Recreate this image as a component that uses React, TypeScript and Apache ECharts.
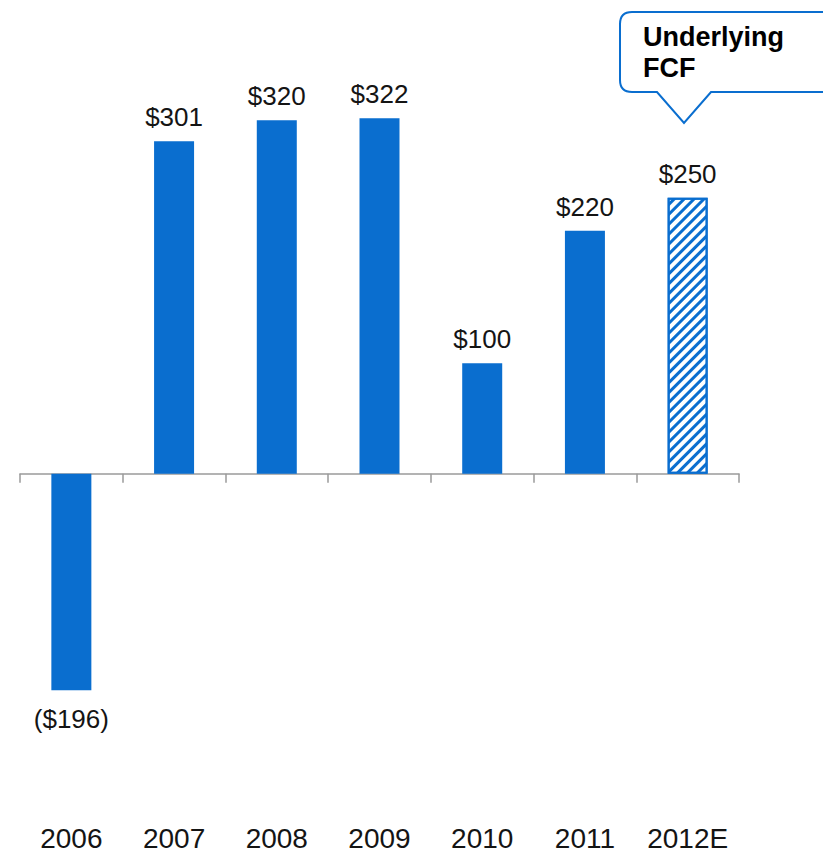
import React, { useEffect, useRef } from "react";
import * as echarts from "echarts";

// Free cash flow by year, $ millions (2012 is an estimate)
const years = ["2006", "2007", "2008", "2009", "2010", "2011", "2012E"];
const fcf = [-196, 301, 320, 322, 100, 220, 250];
const estimateIndex = 6;

const BLUE = "#0a6ecf";
const FONT = "'Liberation Sans', Arial, Helvetica, sans-serif";

// Speech-bubble outline for the "Underlying FCF" note
const calloutPath =
  "M632 12 H 845 V 92 H 711 L 684 123 L 657 92 H 632 Q 620 92 620 80 V 24 Q 620 12 632 12 Z";
echarts.graphic.registerShape("callout", echarts.graphic.extendPath(calloutPath, {}));

const money = (v: number) => (v < 0 ? `($${Math.abs(v)})` : `$${v}`);

export default function App() {
  const ref = useRef<HTMLDivElement>(null);

  useEffect(() => {
    if (!ref.current) return;
    const chart = echarts.init(ref.current, null, { renderer: "svg" });

    const data = fcf.map((v, i) => {
      if (i === estimateIndex) {
        return {
          value: v,
          itemStyle: {
            color: "#ffffff",
            borderColor: BLUE,
            borderWidth: 2,
            decal: {
              symbol: "rect",
              symbolSize: 1,
              color: BLUE,
              dashArrayX: [1, 0],
              dashArrayY: [3, 4],
              rotation: -Math.PI / 4,
            },
          },
        };
      }
      if (v < 0) {
        // Negative bar gets its label underneath
        return { value: v, label: { position: "bottom", distance: 16 } };
      }
      return { value: v };
    });

    chart.setOption({
      animation: false,
      backgroundColor: "#ffffff",
      textStyle: { fontFamily: FONT },
      grid: { left: 20, right: 84, top: 32, height: 776 },
      xAxis: [
        {
          type: "category",
          data: years,
          axisLine: { onZero: true, lineStyle: { color: "#9a9a9a", width: 1.5 } },
          axisTick: { show: true, length: 9, lineStyle: { color: "#9a9a9a", width: 1.5 } },
          axisLabel: { show: false },
        },
        {
          type: "category",
          data: years,
          position: "bottom",
          axisLine: { show: false, onZero: false },
          axisTick: { show: false },
          axisLabel: {
            show: true,
            interval: 0,
            hideOverlap: false,
            fontSize: 28,
            color: "#141414",
            margin: 19,
            fontFamily: FONT,
          },
        },
      ],
      yAxis: {
        type: "value",
        min: -300,
        max: 400,
        show: false,
        splitLine: { show: false },
      },
      series: [
        {
          type: "bar",
          xAxisIndex: 0,
          data,
          barWidth: 40,
          itemStyle: { color: BLUE },
          label: {
            show: true,
            position: "top",
            distance: 11,
            fontSize: 26,
            color: "#141414",
            fontFamily: FONT,
            formatter: (p: any) => money(p.value),
          },
        },
      ],
      graphic: [
        {
          type: "callout",
          x: 0,
          y: 0,
          z: 10,
          style: { fill: "#ffffff", stroke: BLUE, lineWidth: 2 },
        },
        {
          type: "text",
          x: 643,
          y: 21,
          z: 11,
          style: {
            text: "Underlying\nFCF",
            font: `bold 27px ${FONT}`,
            fill: "#000000",
            lineHeight: 31,
            verticalAlign: "top",
          },
        },
      ],
    });

    return () => chart.dispose();
  }, []);

  return (
    <div
      ref={ref}
      style={{ position: "fixed", left: 0, top: 0, width: 823, height: 852 }}
    />
  );
}
